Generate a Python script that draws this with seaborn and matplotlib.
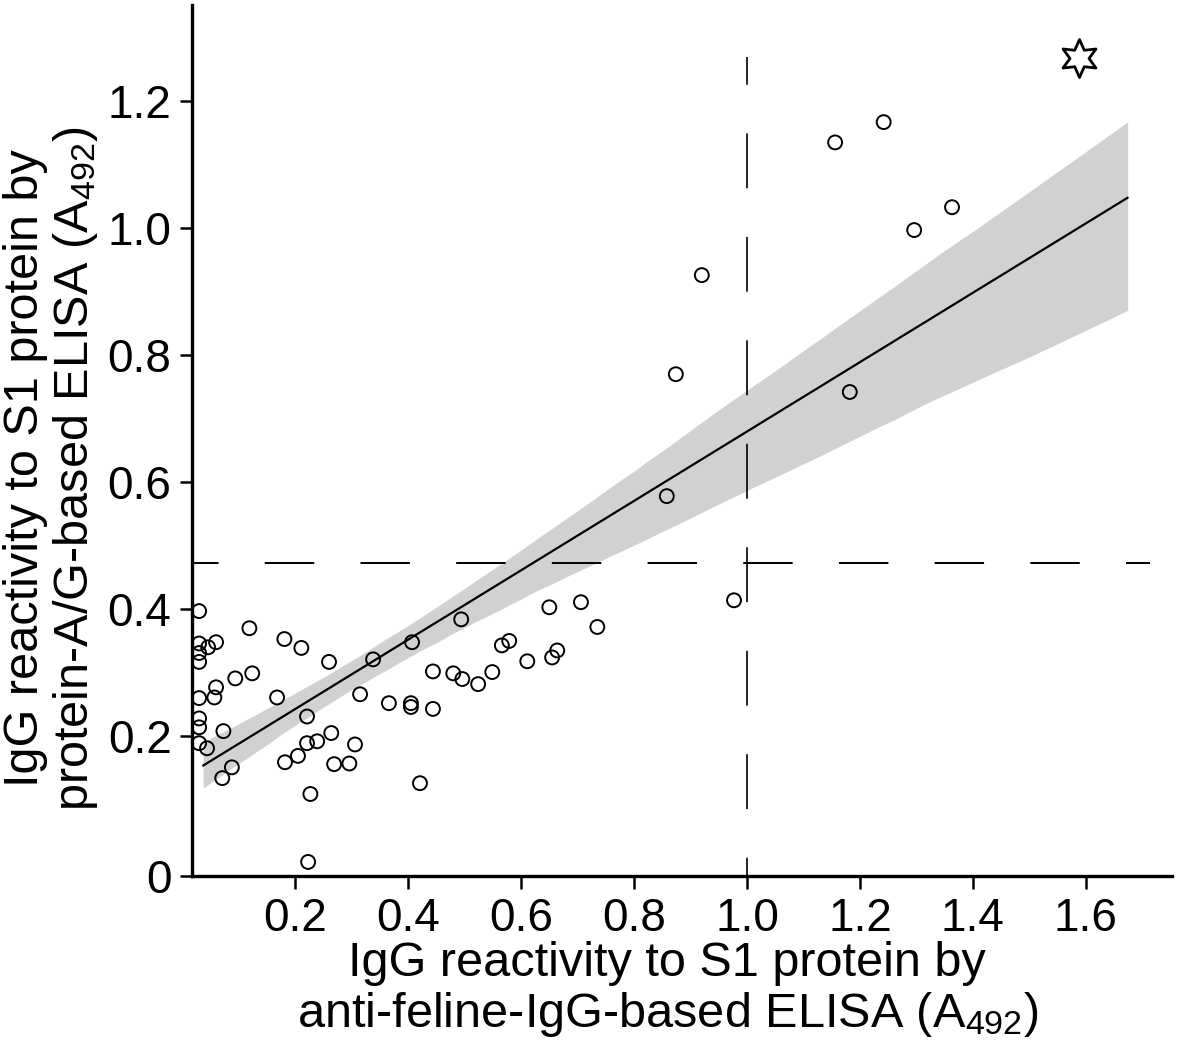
import matplotlib
matplotlib.use('Agg')
import matplotlib.pyplot as plt
import seaborn as sns
import pandas as pd

# Valeurs (A492)
anti_feline_igg = [0.030, 0.030, 0.046, 0.060, 0.030, 0.030, 0.119, 0.181, 0.211, 0.260,
                   0.338, 0.407, 0.494, 0.094, 0.124, 0.060, 0.057, 0.030, 0.168, 0.315,
                   0.444, 0.480, 0.496, 0.524, 0.366, 0.405, 0.405, 0.444, 0.030, 0.030,
                   0.221, 0.073, 0.264, 0.030, 0.044, 0.221, 0.239, 0.306, 0.205, 0.182,
                   0.269, 0.296, 0.088, 0.071, 0.227, 0.421, 0.223, 0.650, 0.706, 0.735,
                   0.566, 0.579, 0.611, 0.655, 0.664, 0.549, 0.977, 0.920, 0.874, 0.858,
                   1.182, 1.156, 1.242, 1.296, 1.363]
protein_ag = [0.397, 0.346, 0.340, 0.348, 0.331, 0.317, 0.370, 0.353, 0.339, 0.317,
              0.321, 0.348, 0.384, 0.291, 0.299, 0.277, 0.261, 0.260, 0.261, 0.266,
              0.302, 0.299, 0.290, 0.282, 0.252, 0.252, 0.246, 0.243, 0.228, 0.214,
              0.231, 0.208, 0.205, 0.189, 0.181, 0.189, 0.192, 0.187, 0.169, 0.159,
              0.156, 0.157, 0.151, 0.134, 0.109, 0.126, 0.002, 0.403, 0.411, 0.372,
              0.343, 0.350, 0.318, 0.324, 0.335, 0.301, 0.414, 0.926, 0.770, 0.578,
              0.742, 1.135, 1.167, 0.997, 1.033]
# point marqué d'une étoile
star_x = [1.588]
star_y = [1.268]

# seuils (cut-off)
cutoff_x = 1.0
cutoff_y = 0.472

xticks = [0.2, 0.4, 0.6, 0.8, 1.0, 1.2, 1.4, 1.6]
yticks = [0.2, 0.4, 0.6, 0.8, 1.0, 1.2]

df = pd.DataFrame({'x': anti_feline_igg, 'y': protein_ag})

sns.set_style('ticks')
plt.rcParams['font.family'] = ['Liberation Sans', 'DejaVu Sans']
plt.rcParams['mathtext.fontset'] = 'custom'
plt.rcParams['mathtext.rm'] = 'Liberation Sans'
plt.rcParams['mathtext.it'] = 'Liberation Sans'
plt.rcParams['lines.scale_dashes'] = False
for k in ['text.color', 'axes.labelcolor', 'xtick.color', 'ytick.color', 'axes.edgecolor']:
    plt.rcParams[k] = 'black'

fig = plt.figure(figsize=(11.8, 10.49), dpi=100)
ax = fig.add_axes([0.163, 0.165, 0.830, 0.830])

xmin, xmax = 0.018, 1.752
ymin, ymax = -0.020, 1.351

# droite de régression étendue
ax.set_xlim(0.037, 1.674)
sns.regplot(data=df, x='x', y='y', ax=ax, scatter=False, truncate=False, ci=85, seed=0,
            color='black', line_kws={'color': 'black', 'lw': 1.6})
ax.collections[-1].set_alpha(0.18)
ax.collections[-1].set_linewidth(0)

# lignes seuils en tirets
ax.plot([xmin, 1.713], [cutoff_y, cutoff_y], color='black', lw=1.4,
        linestyle=(16.5, (35.6, 33.3)), dash_capstyle='butt')
ax.plot([cutoff_x, cutoff_x], [1.27, ymin], color='black', lw=1.2,
        linestyle=(19.5, (39.5, 35)), dash_capstyle='butt')

sns.scatterplot(data=df, x='x', y='y', ax=ax, marker='o', s=100, facecolor='none',
                edgecolor='black', linewidth=1.4, zorder=5)
ax.scatter(star_x, star_y, marker=(6, 1, 0), s=750, facecolor='white',
           edgecolor='black', linewidth=2.0, zorder=5)

ax.set_xlim(xmin, xmax)
ax.set_ylim(ymin, ymax)
ax.set_xticks(xticks)
ax.set_xticklabels([f'{t:.1f}' for t in xticks])
ax.set_yticks([ymin] + yticks)
ax.set_yticklabels(['0'] + [f'{t:.1f}' for t in yticks])

for side in ['top', 'right']:
    ax.spines[side].set_visible(False)
for side in ['left', 'bottom']:
    ax.spines[side].set_linewidth(2.4)
ax.tick_params(axis='both', length=9, width=1.8, labelsize=33, pad=6, direction='out')

ax.set_xlabel('IgG reactivity to S1 protein by\nanti-feline-IgG-based ELISA (A$_{492}$)',
              fontsize=35, labelpad=4, linespacing=1.1)
ax.xaxis.set_label_coords(0.485, -0.075)
ax.set_ylabel('IgG reactivity to S1 protein by\nprotein-A/G-based ELISA (A$_{492}$)',
              fontsize=35, linespacing=1.1)
ax.yaxis.set_label_coords(-0.094, 0.468)

plt.savefig('out.png', dpi=100)
plt.close()
